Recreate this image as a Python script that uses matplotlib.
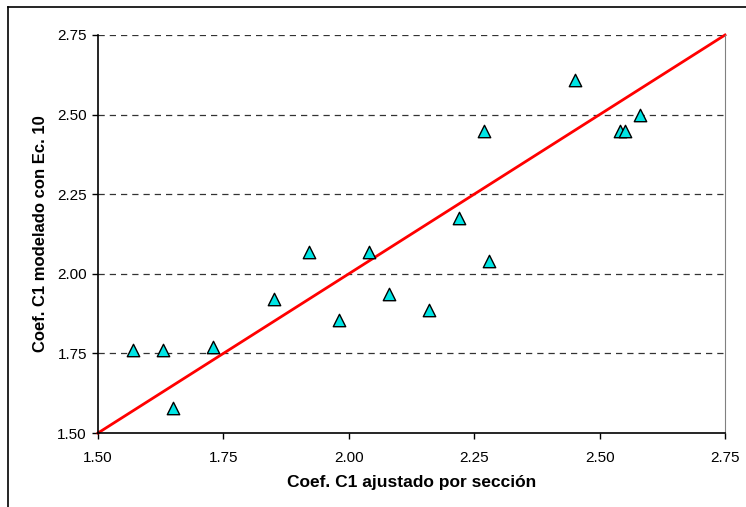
import numpy as np
import matplotlib.pyplot as plt
from matplotlib.lines import Line2D

# Coeficiente C1: ajustado por seccion vs modelado con Ec. 10
c1_ajustado = [1.57, 1.63, 1.65, 1.73, 1.85, 1.92, 1.98, 2.04, 2.08,
               2.16, 2.22, 2.27, 2.28, 2.45, 2.54, 2.55, 2.58]
c1_modelado = [1.76, 1.76, 1.58, 1.77, 1.92, 2.07, 1.855, 2.07, 1.935,
               1.885, 2.175, 2.45, 2.04, 2.61, 2.45, 2.45, 2.50]
linea_11 = [1.50, 2.75]
ticks = [1.50, 1.75, 2.00, 2.25, 2.50, 2.75]

plt.rcParams['font.family'] = ['Liberation Sans', 'DejaVu Sans']

fig = plt.figure(figsize=(7.46, 5.07), dpi=100)
ax = fig.add_axes([98 / 746, 1 - 433 / 507, 627 / 746, 398 / 507])

# dashed horizontal grid
for t in ticks[1:]:
    ax.axhline(t, color='#333333', lw=0.9, ls=(0, (5, 4)), zorder=1)

ax.plot(linea_11, linea_11, color='#ff0000', lw=2, zorder=2, clip_on=False)
ax.scatter(c1_ajustado, c1_modelado, marker='^', s=80, facecolor='#00e5e5',
           edgecolor='black', linewidth=1, zorder=3)

ax.set_xlim(1.5, 2.75)
ax.set_ylim(1.5, 2.75)
ax.set_xticks(ticks)
ax.set_yticks(ticks)
ax.set_xticklabels(['%.2f' % t for t in ticks], fontsize=11)
ax.set_yticklabels(['%.2f' % t for t in ticks], fontsize=11)
ax.tick_params(direction='out', length=4, width=1, pad=4)
ax.tick_params(axis='x', pad=9)

ax.spines['top'].set_visible(False)
ax.spines['right'].set_color('#808080')
ax.spines['left'].set_linewidth(1.2)
ax.spines['bottom'].set_linewidth(1.2)

ax.set_xlabel('Coef. C1 ajustado por sección', fontsize=12.5, fontweight='bold', labelpad=7)
ax.set_ylabel('Coef. C1 modelado con Ec. 10', fontsize=12, fontweight='bold', labelpad=7)

# outer chart frame (only top and left edges visible)
fig.add_artist(Line2D([8 / 746, 1.0], [1 - 7 / 507] * 2, color='black', lw=1.2))
fig.add_artist(Line2D([8 / 746] * 2, [0.0, 1 - 7 / 507], color='black', lw=1.2))

fig.savefig('out.png', dpi=100)
